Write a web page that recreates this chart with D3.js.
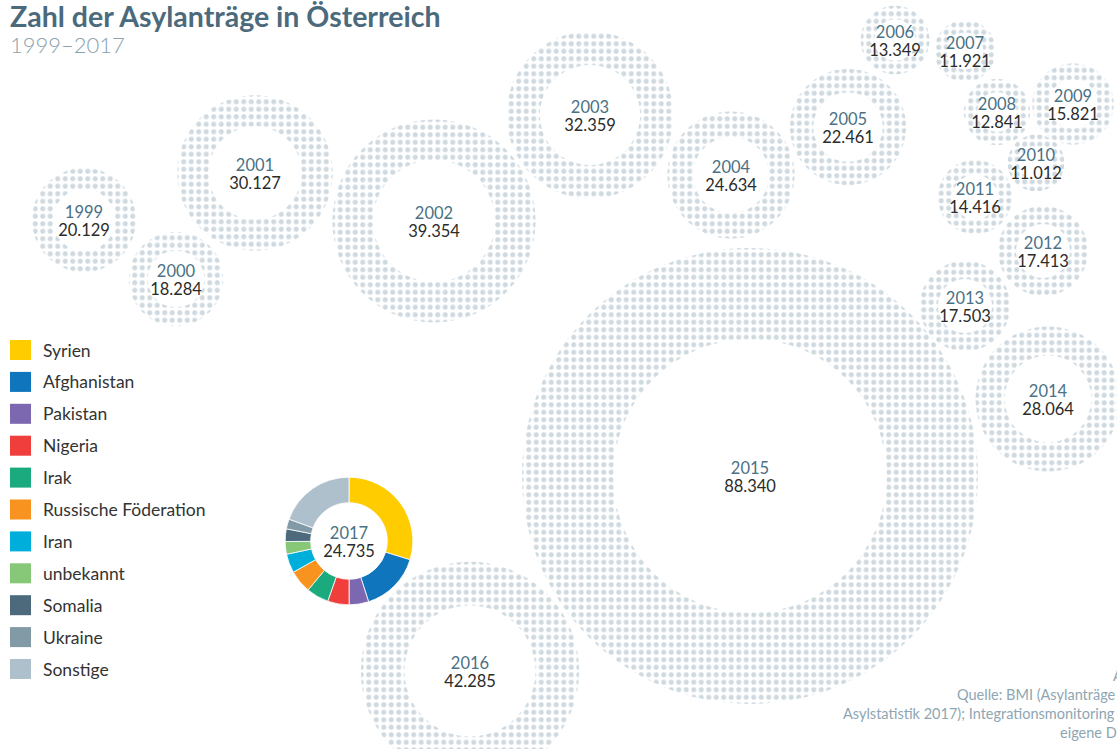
<!DOCTYPE html>
<html>
<head>
<meta charset="utf-8">
<script src="https://cdn.jsdelivr.net/npm/d3@7"></script>
<style>
  body { margin: 0; background: #fff; }
  svg { display: block; font-family: Lato, "Open Sans", sans-serif; }
</style>
</head>
<body>
<div id="chart"></div>
<script>
// data
var years = ["1999", "2000", "2001", "2002", "2003", "2004", "2005", "2006", "2007",
  "2008", "2009", "2010", "2011", "2012", "2013", "2014", "2015", "2016"];
var applications = [20129, 18284, 30127, 39354, 32359, 24634, 22461, 13349, 11921,
  12841, 15821, 11012, 14416, 17413, 17503, 28064, 88340, 42285];

var year2017 = "2017";
var total2017 = 24735;
var countries = ["Syrien", "Afghanistan", "Pakistan", "Nigeria", "Irak", "Russische Föderation",
  "Iran", "unbekannt", "Somalia", "Ukraine", "Sonstige"];
var countryValues = [7356, 3781, 1226, 1343, 1403, 1433, 1186, 790, 790, 620, 4807];

// layout: where each bubble sits on the page (hand placed like the original)
var spots = [[84, 220], [176, 279], [255, 173], [434, 221], [590, 115], [731, 175], [848, 127],
  [895, 40], [965, 51], [997, 112], [1073, 104], [1036, 163], [975, 197], [1043, 251],
  [965, 306], [1048, 399], [750, 476], [470, 671]];
var spot2017 = [349, 541];

var colors = ["#ffcc00", "#0f75bc", "#7b68b0", "#ef3e3b", "#1aaa7e", "#f7931e",
  "#00aedb", "#86c878", "#4d6a7d", "#8299a6", "#adc0cb"];

var svgWidth = 1117;
var svgHeight = 749;

var svg = d3.select("#chart")
  .append("svg")
  .attr("width", svgWidth)
  .attr("height", svgHeight);

// dotted fill
var defs = svg.append("defs");
var pattern = defs.append("pattern")
  .attr("id", "dots")
  .attr("patternUnits", "userSpaceOnUse")
  .attr("width", 7.5)
  .attr("height", 7.5);
pattern.append("circle")
  .attr("cx", 3.75)
  .attr("cy", 3.75)
  .attr("r", 2.5)
  .attr("fill", "#cfd9e0");

// radius grows linearly with the count
var rScale = d3.scaleLinear()
  .domain([0, d3.max(applications)])
  .range([0, 228]);
var holeRatio = 0.6;

var ring = d3.arc()
  .startAngle(0)
  .endAngle(2 * Math.PI);

var bubbles = svg.append("g").selectAll("g")
  .data(years)
  .enter()
  .append("g")
  .attr("transform", (d, i) => `translate(${spots[i][0]}, ${spots[i][1]})`);

bubbles.append("path")
  .attr("d", (d, i) => ring({ innerRadius: rScale(applications[i]) * holeRatio, outerRadius: rScale(applications[i]) }))
  .attr("fill", "url(#dots)");

bubbles.append("text")
  .attr("text-anchor", "middle")
  .attr("y", -2)
  .attr("fill", "#4a7185")
  .attr("font-size", 16.5)
  .text(d => d);

bubbles.append("text")
  .attr("text-anchor", "middle")
  .attr("y", 16)
  .attr("fill", "#2b2b2b")
  .attr("font-size", 16.5)
  .text((d, i) => d3.format(",")(applications[i]).replace(/,/g, "."));

// 2017 donut
var r2017 = rScale(total2017);
var pie = d3.pie().sort(null);
var slice = d3.arc()
  .innerRadius(r2017 * holeRatio)
  .outerRadius(r2017);

var donut = svg.append("g")
  .attr("transform", `translate(${spot2017[0]}, ${spot2017[1]})`);

donut.selectAll("path")
  .data(pie(countryValues))
  .enter()
  .append("path")
  .attr("d", slice)
  .attr("fill", (d, i) => colors[i])
  .attr("stroke", "#fff")
  .attr("stroke-width", 0.8);

donut.append("text")
  .attr("text-anchor", "middle")
  .attr("y", -2)
  .attr("fill", "#4a7185")
  .attr("font-size", 16.5)
  .text(year2017);

donut.append("text")
  .attr("text-anchor", "middle")
  .attr("y", 16)
  .attr("fill", "#2b2b2b")
  .attr("font-size", 16.5)
  .text(d3.format(",")(total2017).replace(/,/g, "."));

// legend
var legend = svg.append("g").selectAll("g")
  .data(countries)
  .enter()
  .append("g")
  .attr("transform", (d, i) => `translate(10, ${340 + i * 31.9})`);

legend.append("rect")
  .attr("width", 21)
  .attr("height", 20)
  .attr("fill", (d, i) => colors[i]);

legend.append("text")
  .attr("x", 33)
  .attr("y", 16.5)
  .attr("fill", "#333")
  .attr("font-size", 17.5)
  .text(d => d);

// title
svg.append("text")
  .attr("x", 10)
  .attr("y", 27)
  .attr("fill", "#4b6a7c")
  .attr("font-size", 28.5)
  .attr("font-weight", "bold")
  .text("Zahl der Asylanträge in Österreich");

svg.append("text")
  .attr("x", 10)
  .attr("y", 53)
  .attr("fill", "#8aa1ae")
  .attr("font-size", 22)
  .attr("font-weight", 300)
  .text("1999–2017");

// source note, runs off the right edge like the original
var source = ["Abb. 1", "Quelle: BMI (Asylanträge 1999–2016;", "Asylstatistik 2017); Integrationsmonitoring 2018;", "eigene Darstellung"];
var sourceX = [1113, 957, 843, 1060];
svg.append("g").selectAll("text")
  .data(source)
  .enter()
  .append("text")
  .attr("x", (d, i) => sourceX[i])
  .attr("y", (d, i) => 681 + i * 19)
  .attr("fill", "#8ea6b3")
  .attr("font-size", 14.5)
  .text(d => d);
</script>
</body>
</html>
